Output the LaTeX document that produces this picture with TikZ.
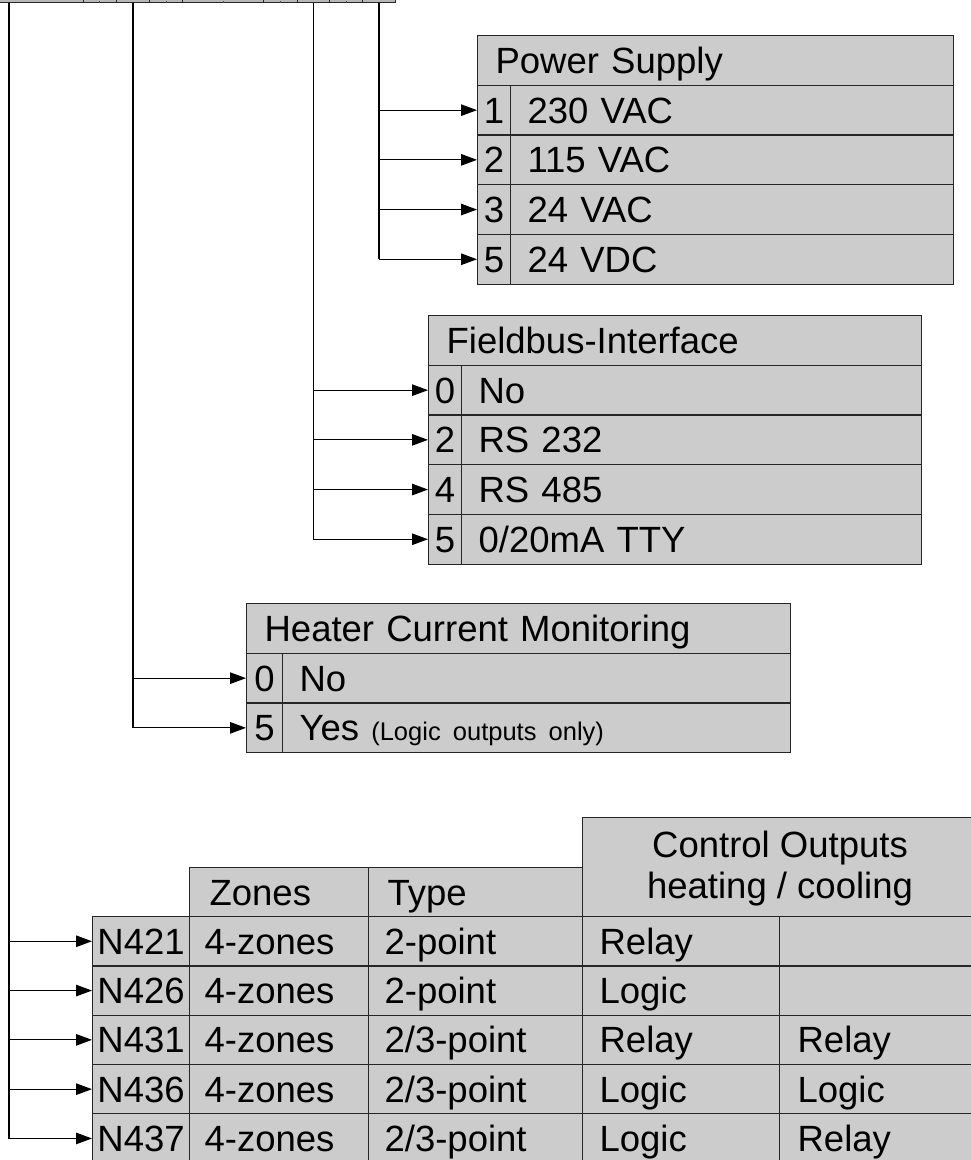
\documentclass[tikz,border=0pt]{standalone}
\usepackage{fontspec}
\setmainfont{Liberation Sans}
\usetikzlibrary{arrows.meta}
\definecolor{cellgray}{RGB}{204,204,204}
\newcommand{\bigf}{\fontsize{36.5bp}{41bp}\selectfont}
\newcommand{\smallf}{\fontsize{25.5bp}{28bp}\selectfont}
\tikzset{
  cell/.style={draw=black!85, fill=cellgray, line width=1.2bp, anchor=north west,
    inner sep=0pt, font=\bigf, text height=26bp, text depth=0bp, minimum height=49.7bp},
  hcell/.style={cell, inner xsep=18bp, align=left},
  vcell/.style={cell, inner xsep=17bp, align=left},
  ncell/.style={cell, align=center},
  brow/.style={cell, minimum height=49.3bp},
  barcell/.style={draw=black!85, fill=cellgray!90!black, line width=1.2bp, anchor=south west,
    inner sep=0pt, minimum height=43bp},
  arr/.style={draw=black, line width=1.2bp, -{Triangle[length=16bp,width=11.5bp]}},
  trunk/.style={draw=black, line width=1.4bp}
}
\begin{document}
\begin{tikzpicture}[x=1bp,y=-1bp]
\useasboundingbox (0,0) rectangle (971,1160);
\clip (0,0) rectangle (971,1160);

% top code bar
\node[barcell, minimum width=113bp] (b1) at (-30,3) {};
\node[barcell, minimum width=33bp] (b2) at (83,3) {};
\node[barcell, minimum width=33bp] (b3) at (116,3) {};
\node[barcell, minimum width=33bp] (b4) at (149,3) {};
\node[barcell, minimum width=81bp] (b5) at (182,3) {};
\node[barcell, minimum width=34bp] (b6) at (263,3) {};
\node[barcell, minimum width=32bp] (b7) at (297,3) {};
\node[barcell, minimum width=33bp] (b8) at (329,3) {};
\node[barcell, minimum width=33bp] (b9) at (362,3) {};
\foreach \tx in {99,166,223,280,346} \draw[black!70, line width=1bp] (\tx,1) -- (\tx,3);
\coordinate (t0) at (9,3);

% Power Supply
\node[hcell, text width=440bp] (psH) at (477,35) {Power Supply};
\node[ncell, minimum width=33bp] (ps1) at (477,84.7) {1};
\node[vcell, text width=409bp] (ps1v) at (510,84.7) {230 VAC};
\node[ncell, minimum width=33bp] (ps2) at (477,134.4) {2};
\node[vcell, text width=409bp] (ps2v) at (510,134.4) {115 VAC};
\node[ncell, minimum width=33bp] (ps3) at (477,184.1) {3};
\node[vcell, text width=409bp] (ps3v) at (510,184.1) {24 VAC};
\node[ncell, minimum width=33bp] (ps5) at (477,233.8) {5};
\node[vcell, text width=409bp] (ps5v) at (510,233.8) {24 VDC};
\draw[trunk] (b9.south) -- (b9.south |- ps5.west);
\foreach \n in {ps1,ps2,ps3,ps5} \draw[arr] (b9.south) |- (\n.west);

% Fieldbus-Interface
\node[hcell, text width=457bp] (fbH) at (428,315) {Fieldbus-Interface};
\node[ncell, minimum width=33bp] (fb0) at (428,364.7) {0};
\node[vcell, text width=426bp] (fb0v) at (461,364.7) {No};
\node[ncell, minimum width=33bp] (fb2) at (428,414.4) {2};
\node[vcell, text width=426bp] (fb2v) at (461,414.4) {RS 232};
\node[ncell, minimum width=33bp] (fb4) at (428,464.1) {4};
\node[vcell, text width=426bp] (fb4v) at (461,464.1) {RS 485};
\node[ncell, minimum width=33bp] (fb5) at (428,513.8) {5};
\node[vcell, text width=426bp] (fb5v) at (461,513.8) {0/20mA TTY};
\draw[trunk] (b7.south) -- (b7.south |- fb5.west);
\foreach \n in {fb0,fb2,fb4,fb5} \draw[arr] (b7.south) |- (\n.west);

% Heater Current Monitoring
\node[hcell, text width=508bp] (hcH) at (246,603) {Heater Current Monitoring};
\node[ncell, minimum width=36bp] (hc0) at (246,652.7) {0};
\node[vcell, text width=474bp] (hc0v) at (282,652.7) {No};
\node[ncell, minimum width=36bp] (hc5) at (246,702.4) {5};
\node[vcell, text width=474bp] (hc5v) at (282,702.4) {Yes {\smallf (Logic outputs only)}};
\draw[trunk] (b3.south) -- (b3.south |- hc5.west);
\foreach \n in {hc0,hc5} \draw[arr] (b3.south) |- (\n.west);

% Controller table
\node[brow, inner xsep=20bp, align=left, text width=139bp] (thZ) at (189,867) {Zones};
\node[brow, inner xsep=19bp, align=left, text width=176bp] (thT) at (368,867) {Type};
\node[brow, minimum width=396bp, minimum height=99bp] (thC) at (582,817) {};
\node[anchor=base, font=\bigf, inner sep=0pt] (co1) at (780,857) {Control Outputs};
\node[anchor=base, font=\bigf, inner sep=0pt] (co2) at (780,898) {heating / cooling};

\node[brow, align=center, minimum width=97bp] (n421) at (92,916) {N421};
\node[brow, inner xsep=15bp, align=left, text width=149bp] (z421) at (189,916) {4-zones};
\node[brow, inner xsep=16bp, align=left, text width=182bp] (y421) at (368,916) {2-point};
\node[brow, inner xsep=17bp, align=left, text width=163bp] (a421) at (582,916) {Relay};
\node[brow, inner xsep=18bp, align=left, text width=163bp] (c421) at (779,916) {};

\node[brow, align=center, minimum width=97bp] (n426) at (92,965.3) {N426};
\node[brow, inner xsep=15bp, align=left, text width=149bp] (z426) at (189,965.3) {4-zones};
\node[brow, inner xsep=16bp, align=left, text width=182bp] (y426) at (368,965.3) {2-point};
\node[brow, inner xsep=17bp, align=left, text width=163bp] (a426) at (582,965.3) {Logic};
\node[brow, inner xsep=18bp, align=left, text width=163bp] (c426) at (779,965.3) {};

\node[brow, align=center, minimum width=97bp] (n431) at (92,1014.6) {N431};
\node[brow, inner xsep=15bp, align=left, text width=149bp] (z431) at (189,1014.6) {4-zones};
\node[brow, inner xsep=16bp, align=left, text width=182bp] (y431) at (368,1014.6) {2/3-point};
\node[brow, inner xsep=17bp, align=left, text width=163bp] (a431) at (582,1014.6) {Relay};
\node[brow, inner xsep=18bp, align=left, text width=163bp] (c431) at (779,1014.6) {Relay};

\node[brow, align=center, minimum width=97bp] (n436) at (92,1063.9) {N436};
\node[brow, inner xsep=15bp, align=left, text width=149bp] (z436) at (189,1063.9) {4-zones};
\node[brow, inner xsep=16bp, align=left, text width=182bp] (y436) at (368,1063.9) {2/3-point};
\node[brow, inner xsep=17bp, align=left, text width=163bp] (a436) at (582,1063.9) {Logic};
\node[brow, inner xsep=18bp, align=left, text width=163bp] (c436) at (779,1063.9) {Logic};

\node[brow, align=center, minimum width=97bp] (n437) at (92,1113.2) {N437};
\node[brow, inner xsep=15bp, align=left, text width=149bp] (z437) at (189,1113.2) {4-zones};
\node[brow, inner xsep=16bp, align=left, text width=182bp] (y437) at (368,1113.2) {2/3-point};
\node[brow, inner xsep=17bp, align=left, text width=163bp] (a437) at (582,1113.2) {Logic};
\node[brow, inner xsep=18bp, align=left, text width=163bp] (c437) at (779,1113.2) {Relay};

\draw[trunk] (t0) -- (t0 |- n437.west);
\foreach \n in {n421,n426,n431,n436,n437} \draw[arr] (t0) |- (\n.west);
\end{tikzpicture}
\end{document}
